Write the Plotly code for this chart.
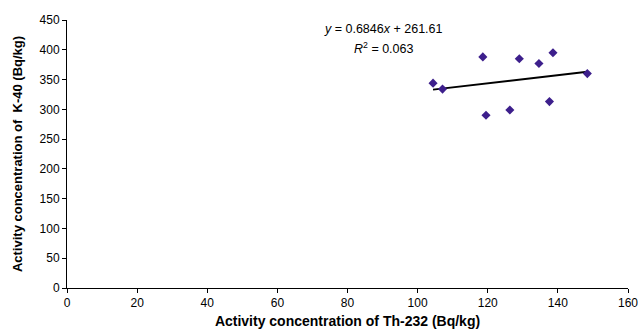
import plotly.graph_objects as go

th232 = [104.4, 107.1, 118.6, 119.5, 126.3, 129.0, 134.6, 137.6, 138.6, 148.4]
k40 = [344, 334, 388, 290, 299, 385, 377, 313, 395, 360]
slope = 0.6846
intercept = 261.61
r2 = 0.063
x_ticks = [0, 20, 40, 60, 80, 100, 120, 140, 160]
y_ticks = [0, 50, 100, 150, 200, 250, 300, 350, 400, 450]

xmin, xmax = min(th232), max(th232)
fig = go.Figure()
fig.add_trace(go.Scatter(
    x=[xmin, xmax], y=[slope * xmin + intercept, slope * xmax + intercept],
    mode="lines", line=dict(color="black", width=2), showlegend=False, hoverinfo="skip"))
fig.add_trace(go.Scatter(
    x=th232, y=k40, mode="markers",
    marker=dict(symbol="diamond", size=7, color="#3D1F8C"), showlegend=False))

fig.add_annotation(x=90.3, y=435, xref="x", yref="y", showarrow=False,
                   text=f"<i>y</i> = {slope}<i>x</i> + {intercept}",
                   font=dict(family="Liberation Sans, Arial", size=12.5, color="black"))
fig.add_annotation(x=90.3, y=403, xref="x", yref="y", showarrow=False,
                   text=f"<i>R</i><sup>2</sup> = {r2}",
                   font=dict(family="Liberation Sans, Arial", size=12.5, color="black"))

fig.update_layout(
    width=638, height=329,
    margin=dict(l=67, r=10, t=20, b=41),
    plot_bgcolor="white", paper_bgcolor="white",
    font=dict(family="Liberation Sans, Arial", size=12, color="black"),
    xaxis=dict(range=[0, 160], tickvals=x_ticks, showgrid=False, zeroline=False,
               showline=True, linecolor="black", linewidth=1, automargin=False,
               ticks="outside", ticklen=4, tickcolor="black", ticklabeloverflow="allow",
               title=dict(text="<b>Activity concentration of Th-232 (Bq/kg)</b>",
                          font=dict(size=14), standoff=6)),
    yaxis=dict(range=[0, 450], tickvals=y_ticks, showgrid=False, zeroline=False,
               showline=True, linecolor="black", linewidth=1, automargin=False,
               ticks="outside", ticklen=4, tickcolor="black", ticklabeloverflow="allow",
               title=dict(text="<b>Activity concentration of  K-40 (Bq/kg)</b>",
                          font=dict(size=13), standoff=14)),
)
fig.write_html("out.html", config={"displayModeBar": False},
               post_script="document.body.style.margin='0px';document.body.style.overflow='hidden';")
